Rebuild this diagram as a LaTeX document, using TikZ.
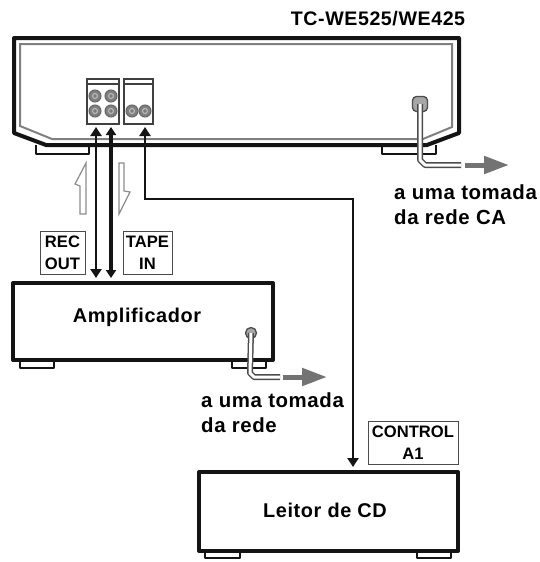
\documentclass[tikz,border=0pt]{standalone}
\usepackage{fontspec}
\setmainfont{Liberation Sans}[LetterSpace=3]
\newfontfamily\labelfont{Liberation Sans}[LetterSpace=0]
\usetikzlibrary{arrows.meta}
\definecolor{softk}{gray}{0.08}
\definecolor{arrowgray}{gray}{0.45}
\tikzset{
  x=1pt,y=-1pt,
  case/.style={draw=softk,line width=4pt,line join=round},
  inner line/.style={draw=black!50,line width=2pt,line join=miter},
  foot/.style={draw=softk,line width=2.2pt,line join=round},
  unit/.style={case,fill=white,rectangle,minimum width=#1,inner sep=0pt},
  panel/.style={draw=black!75,line width=1.3pt,fill=white},
  jack/.style={circle,draw=black!60,fill=black!50,line width=1pt,minimum size=12pt,inner sep=0pt},
  signal/.style={draw=softk,line width=2.4pt,{Triangle[length=9pt,width=11pt]}-{Triangle[length=9pt,width=11pt]}},
  signal heavy/.style={signal,line width=3.2pt,{Triangle[length=8pt,width=10pt]}-{Triangle[length=8pt,width=10pt]}},
  tag/.style={draw=black!70,line width=1pt,fill=white,align=center,inner sep=0pt,font=\labelfont\bfseries\fontsize{16.6}{22}\selectfont},
  hollow/.style={draw=black!45,line width=1.2pt,fill=white,line join=miter},
  caption/.style={inner sep=0pt,anchor=west,align=left,font=\bfseries\fontsize{20.4}{25}\selectfont},
  unitlabel/.style={inner sep=0pt,font=\bfseries\fontsize{19.9}{22}\selectfont},
  flow/.style={draw=arrowgray,line width=5pt,-{Triangle[length=25pt,width=17pt]}},
}
\newcommand{\cablerun}[1]{%
  \draw[line width=6pt,draw=black!70,line join=round] #1;
  \draw[line width=3pt,draw=white,line join=round] #1;}
\begin{document}
\begin{tikzpicture}
\useasboundingbox (0,0) rectangle (540,562);
% main deck
\draw[foot] (36,145) -- (36,154) -- (89,154) -- (89,145);
\draw[foot] (382,145) -- (382,154) -- (436,154) -- (436,145);
\draw[case,fill=white] (14,38) -- (459,38) -- (459,133) -- (427,145) -- (46,145) -- (14,133) -- cycle;
\draw[inner line] (20,44) -- (452,44) -- (452,127) -- (423,139) -- (52,139) -- (20,126) -- cycle;
\node[inner sep=0pt,font=\bfseries\fontsize{19.6}{22}\selectfont] (title) at (378,19) {TC-WE525/WE425};
% jack panels
\node[panel,minimum width=32pt,minimum height=45pt,inner sep=0pt] (panelA) at (103,101.5) {};
\node[panel,minimum width=29pt,minimum height=45pt,inner sep=0pt] (panelB) at (138.5,101.5) {};
\draw[panel] (panelA.north west) ++(0,5.5) -- ++(32,0);
\draw[panel] (panelB.north west) ++(0,5.5) -- ++(29,0);
\foreach \n/\px/\py in {a/95/96,b/111/96,c/95/111,d/111/111,e/132/111,f/145/111}{
  \node[jack] (jack\n) at (\px,\py) {};
  \node[circle,draw=white!75!black,line width=.9pt,minimum size=5pt,inner sep=0pt] at (jack\n) {};
}
% units
\draw[foot] (20,360) -- (20,368) -- (54,368) -- (54,360);
\draw[foot] (232,360) -- (232,368) -- (266,368) -- (266,360);
\node[unit=260pt,minimum height=77pt] (amp) at (143,321.5) {};
\node[unitlabel] (amplabel) at (137,317) {Amplificador};
\draw[foot] (205,551) -- (205,558) -- (240,558) -- (240,551);
\draw[foot] (417,551) -- (417,558) -- (451,558) -- (451,551);
\node[unit=259pt,minimum height=79pt] (cd) at (328.5,511.5) {};
\node[unitlabel] (cdlabel) at (325,510) {Leitor de CD};
% signal arrows
\coordinate (ta) at (96,127); \coordinate (ba) at (96,278);
\coordinate (tb) at (111,127); \coordinate (bb) at (111,278);
\coordinate (tc) at (145,127); \coordinate (elbowA) at (145,199); \coordinate (elbowB) at (353,199); \coordinate (bc) at (353,467);
\draw[signal] (ta) -- (ba);
\draw[signal heavy] (tb) -- (bb);
\draw[signal] (tc) -- (elbowA) -- (elbowB) -- (bc);
% hollow arrows
\draw[hollow] (80,214) -- (86,214) -- (86,163) -- (75,184) -- (80,186) -- cycle;
\draw[hollow] (119,163) -- (124,163) -- (124,191) -- (130,192) -- (119,214) -- cycle;
% tags
\node[tag,minimum width=45pt,minimum height=43pt] (rec) at (62.5,252.5) {REC\\OUT};
\node[tag,minimum width=49pt,minimum height=43pt] (tape) at (147.5,252.5) {TAPE\\IN};
\node[tag,minimum width=90pt,minimum height=43pt] (ctrl) at (413,442.5) {CONTROL\\A1};
% power cables
\node[draw=black!70,fill=black!35,rounded corners=4pt,line width=1.3pt,minimum width=15pt,minimum height=15pt,inner sep=0pt] (plugA) at (420,104) {};
\coordinate (cableA) at (420,165);\coordinate (cableAend) at (461,165);
\cablerun{(plugA.center) -- (420,160) -- (425,165) -- (cableAend)}
\coordinate (flowA) at (465,165); \coordinate (flowAend) at (509,165);
\draw[flow] (flowA) -- (flowAend);
\node[circle,draw=black!70,fill=black!35,line width=1.3pt,minimum size=11pt,inner sep=0pt] (plugB) at (251,333) {};
\cablerun{(plugB.center) -- (250,373) -- (254,377) -- (280,377)}
\coordinate (flowB) at (283,377); \coordinate (flowBend) at (327,377);
\draw[flow] (flowB) -- (flowBend);
% captions
\node[caption] (capA) at (394,205) {a uma tomada\\da rede CA};
\node[caption] (capB) at (201,413) {a uma tomada\\da rede};
\end{tikzpicture}
\end{document}
